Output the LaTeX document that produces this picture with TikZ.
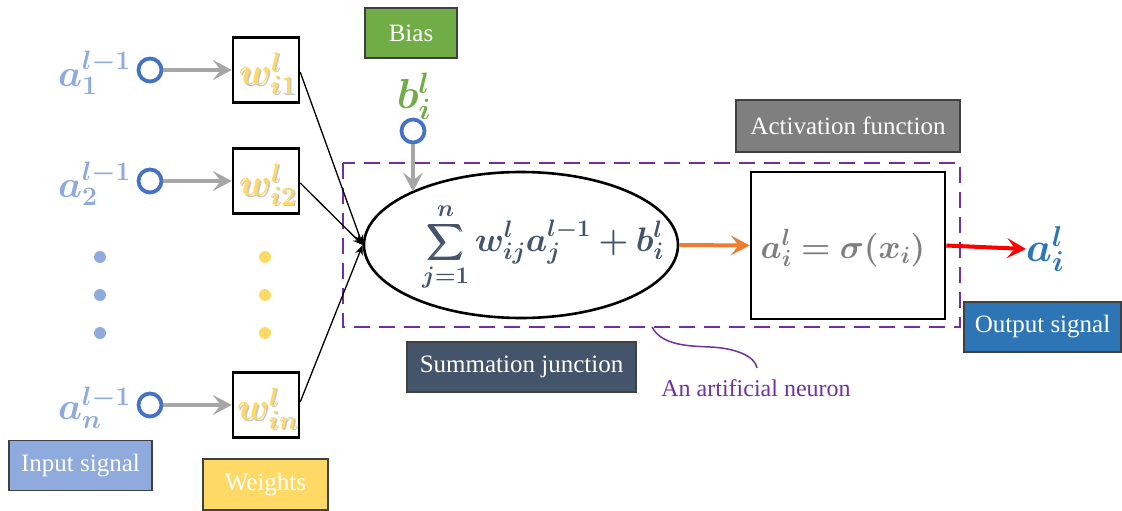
\RequirePackage{fix-cm}
\documentclass[tikz,border=0pt]{standalone}
\usepackage{amsmath,bm}
\usepackage[no-math]{fontspec}
\setmainfont{Liberation Serif}
\usetikzlibrary{arrows.meta,shapes.geometric}
\definecolor{inblue}{HTML}{8FAADC}
\definecolor{nodeblue}{HTML}{4472C4}
\definecolor{wyellow}{HTML}{FFD966}
\definecolor{bgreen}{HTML}{70AD47}
\definecolor{slate}{HTML}{44546A}
\definecolor{agray}{HTML}{7F7F7F}
\definecolor{oblue}{HTML}{2E75B6}
\definecolor{aorange}{HTML}{ED7D31}
\definecolor{npurple}{HTML}{7030A0}
\definecolor{arrgray}{HTML}{A6A6A6}
\tikzset{
  lbl/.style={draw=black!75, line width=1.5pt, text=white, inner sep=0pt,
    font=\fontsize{25}{28}\selectfont},
  inc/.style={circle, draw=nodeblue, line width=3.8pt, minimum size=23pt, inner sep=0pt},
  wbox/.style={draw, line width=2.4pt, minimum width=66pt, minimum height=65pt, inner sep=0pt},
  bigtip/.style={-{Stealth[length=19pt,width=20pt,inset=8pt]}},
  garrow/.style={draw=arrgray, line width=4pt, bigtip},
  karrow/.style={draw=black, line width=1.3pt, -{Stealth[length=10pt,width=8pt]}},
  inlab/.style={text=inblue, font=\fontsize{38}{42}\selectfont, inner sep=0pt, anchor=east},
  wlab/.style={text=wyellow, font=\fontsize{38}{42}\selectfont, inner sep=0pt},
  wshadow/.style={text=black!22, font=\fontsize{38}{42}\selectfont, inner sep=0pt},
  dotb/.style={circle, fill=inblue, minimum size=12pt, inner sep=0pt},
  doty/.style={circle, fill=wyellow, minimum size=12pt, inner sep=0pt},
}
\begin{document}
\begin{tikzpicture}[x=1pt,y=-1pt]
\useasboundingbox (0,0) rectangle (1122,511);

% input labels
\node[inlab] (a1) at (131,73) {$\bm{a_1^{l-1}}$};
\node[inlab] (a2) at (131,184) {$\bm{a_2^{l-1}}$};
\node[inlab] (an) at (131,408) {$\bm{a_n^{l-1}}$};

% input circles
\node[inc] (c1) at (150,70) {};
\node[inc] (c2) at (150,181) {};
\node[inc] (cn) at (150,405) {};

% weight boxes
\node[wbox] (w1) at (266,70) {};
\node[wbox] (w2) at (266,181) {};
\node[wbox] (wn) at (266,405) {};
\node[wshadow] at (269,75) {$\bm{w_{i1}^l}$};
\node[wlab] (w1t) at (267.5,73.5) {$\bm{w_{i1}^l}$};
\node[wshadow] at (269,186) {$\bm{w_{i2}^l}$};
\node[wlab] (w2t) at (267.5,184.5) {$\bm{w_{i2}^l}$};
\node[wshadow] at (269,410) {$\bm{w_{in}^l}$};
\node[wlab] (wnt) at (267.5,408.5) {$\bm{w_{in}^l}$};

\draw[garrow] (c1) -- (w1);
\draw[garrow] (c2) -- (w2);
\draw[garrow] (cn) -- (wn);

% dots
\foreach \y [count=\i] in {257,295,333}{
  \node[dotb] (db\i) at (100,\y) {};
  \node[doty] (dy\i) at (265,\y) {};
}

% neuron box
\draw[npurple, line width=2.6pt, dash pattern=on 16pt off 9pt] (343,163) rectangle (960,327);

% summation ellipse
\node[ellipse, draw, line width=2.6pt, minimum width=314pt, minimum height=146pt, inner sep=0pt]
  (sum) at (521,245) {};
\node[text=slate, font=\fontsize{34}{38}\selectfont, inner sep=0pt] (sumt) at (543,247)
  {$\displaystyle\mathop{\bm{\sum}}\limits_{\bm{j=1}}^{\bm{n}} \bm{w_{ij}^{l}a_j^{l-1}+b_i^{l}}$};

\draw[karrow] (w1.east) ++(0,2) coordinate (w1o) -- (sum.west);
\draw[karrow] (w2.east) ++(0,2) coordinate (w2o) -- (sum.west);
\draw[karrow] (wn.east) ++(0,-3) coordinate (wno) -- (sum.west);

% bias
\node[lbl, fill=bgreen, minimum width=92pt, minimum height=50pt] (biasl) at (411,33) {Bias};
\node[text=bgreen, font=\fontsize{42}{46}\selectfont, inner sep=0pt] (bt) at (414,96) {$\bm{b_i^l}$};
\node[inc] (bc) at (413,131) {};
\draw[garrow] (bc) -- (bc |- sum.154);

% activation
\node[draw, line width=2.6pt, minimum width=194pt, minimum height=147pt, inner sep=0pt] (act) at (848,245.5) {};
\node[text=agray, font=\fontsize{33.5}{38}\selectfont, inner sep=0pt] (actt) at (843,248) {$\bm{a_i^l=\sigma(x_i)}$};
\draw[draw=aorange, line width=4pt, bigtip] (sum.east) -- (act.west);

% output
\node[text=oblue, font=\fontsize{41}{45}\selectfont, inner sep=0pt, anchor=west] (out) at (1026,249) {$\bm{a_i^l}$};
\draw[draw=red, line width=4pt, bigtip] (act.east) -- (out.west);

% labels
\node[lbl, fill=inblue, minimum width=143pt, minimum height=50pt] (inl) at (80.5,465.5) {Input signal};
\node[lbl, fill=wyellow, minimum width=125pt, minimum height=51pt] (wl) at (265.5,484.5) {Weights};
\node[lbl, fill=agray, minimum width=224pt, minimum height=52pt] (actl) at (848,126) {Activation function};
\node[lbl, fill=oblue, minimum width=157pt, minimum height=50pt] (outl) at (1042.5,327) {Output signal};
\node[lbl, fill=slate, minimum width=229pt, minimum height=50pt] (suml) at (521.5,367) {Summation junction};

% neuron annotation
\node[text=npurple, font=\fontsize{24}{28}\selectfont, inner sep=0pt] (neur) at (756,388) {An artificial neuron};
\coordinate (nb) at (652,327);
\coordinate (nt) at (757,368);
\draw[npurple, line width=1.5pt] (nb) .. controls (662,346) and (690,346) .. (710,347)
  .. controls (735,348) and (755,356) .. (nt);
\end{tikzpicture}
\end{document}
